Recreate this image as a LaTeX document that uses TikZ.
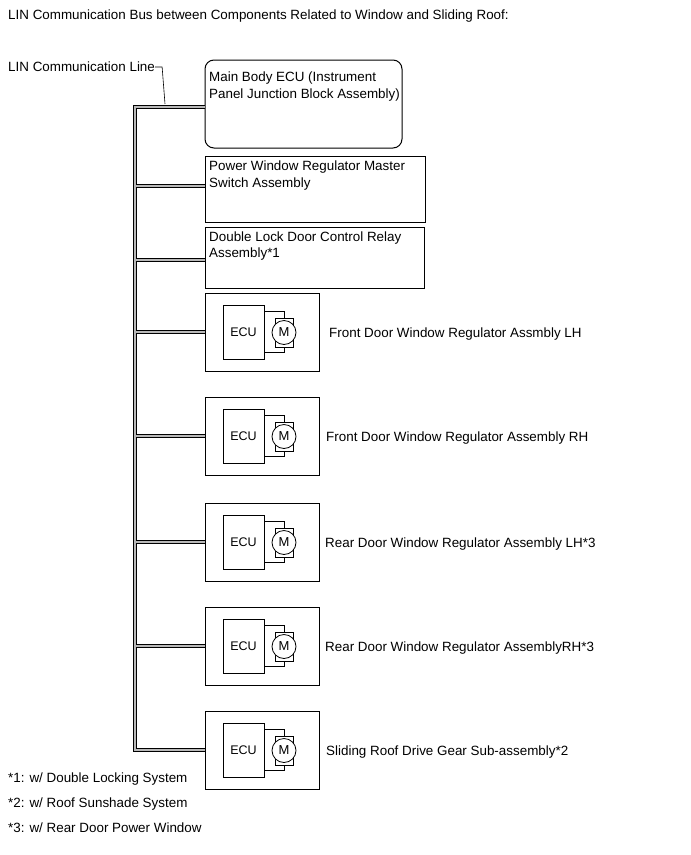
\documentclass[tikz,border=0pt]{standalone}
\usepackage{fontspec}
\setmainfont{Liberation Sans}
\newcommand\ecuunit[4]{%
  \node[box, minimum width=114pt, minimum height=78pt] (#1) at (262,#2+39) {};
  \node[box, line width=0.8pt, minimum width=41pt, minimum height=54pt, font=\fontsize{12.5}{14}\selectfont] (#1ecu) at (243.5,#2+39) {ECU};
  \node[draw, thinln, minimum width=18pt, minimum height=29pt, inner sep=0pt] (#1mr) at (284,#2+39.5) {};
  \node[draw, circle, fill=white, line width=0.8pt, minimum size=24pt, inner sep=0pt, font=\fontsize{13}{14}\selectfont] (#1m) at (284,#2+39.5) {M};
  \draw[thinln] ([yshift=-7pt]#1ecu.north east) -| (#1mr.north);
  \draw[thinln] ([yshift=7pt]#1ecu.south east) -| (#1mr.south);
  \node[txt] (#1lab) at (#4,#2+40) {#3};
}
\begin{document}
\begin{tikzpicture}[x=1pt,y=-1pt,
  box/.style={draw, line width=1pt, inner sep=0pt},
  txt/.style={inner sep=0pt, text height=9.7pt, text depth=0pt, anchor=west, font=\fontsize{13.4}{16}\selectfont},
  cable/.style={draw=black, line width=1pt, double=gray!55, double distance=2.3pt},
  thinln/.style={line width=0.6pt}]
\useasboundingbox[fill=white] (0,0) rectangle (691,855);

% title
\node[txt] (title) at (8,15) {LIN Communication Bus between Components Related to Window and Sliding Roof:};

% upper boxes
\node[box, rounded corners=9pt, minimum width=197pt, minimum height=88pt] (main) at (303.5,104) {};
\node[txt] (mainA) at (209,77) {Main Body ECU (Instrument};
\node[txt] (mainB) at (209,94) {Panel Junction Block Assembly)};

\node[box, minimum width=220pt, minimum height=66pt] (pw) at (315,189) {};
\node[txt] (pwA) at (209,166) {Power Window Regulator Master};
\node[txt] (pwB) at (209,183) {Switch Assembly};

\node[box, minimum width=219pt, minimum height=61pt] (dl) at (314.5,257.5) {};
\node[txt] (dlA) at (209,237) {Double Lock Door Control Relay};
\node[txt] (dlB) at (209,253) {Assembly*1};

% ECU units
\ecuunit{e1}{293}{Front Door Window Regulator Assmbly LH}{329}
\ecuunit{e2}{397}{Front Door Window Regulator Assembly RH}{326}
\ecuunit{e3}{503}{Rear Door Window Regulator Assembly LH*3}{325}
\ecuunit{e4}{607}{Rear Door Window Regulator AssemblyRH*3}{325}
\ecuunit{e5}{711}{Sliding Roof Drive Gear Sub-assembly*2}{326}

% LIN bus
\coordinate (tTop) at (135,107);
\coordinate (j2) at (135,186);
\coordinate (j3) at (135,260);
\draw[cable] (tTop -| main.west) -- (tTop) -- (tTop |- e5.west) -- (e5.west)
  (j2) -- (j2 -| pw.west)
  (j3) -- (j3 -| dl.west)
  (tTop |- e1.west) -- (e1.west)
  (tTop |- e2.west) -- (e2.west)
  (tTop |- e3.west) -- (e3.west)
  (tTop |- e4.west) -- (e4.west);

% LIN line label with leader
\node[txt] (lin) at (8,67) {LIN Communication Line};
\coordinate (ldr) at (165,104);
\draw[thinln] (lin.east) -- ++(7,0) -- (ldr);

% footnotes
\node[txt] (f1) at (8,778) {*1: w/ Double Locking System};
\node[txt] (f2) at (8,803) {*2: w/ Roof Sunshade System};
\node[txt] (f3) at (8,828) {*3: w/ Rear Door Power Window};
\end{tikzpicture}
\end{document}
